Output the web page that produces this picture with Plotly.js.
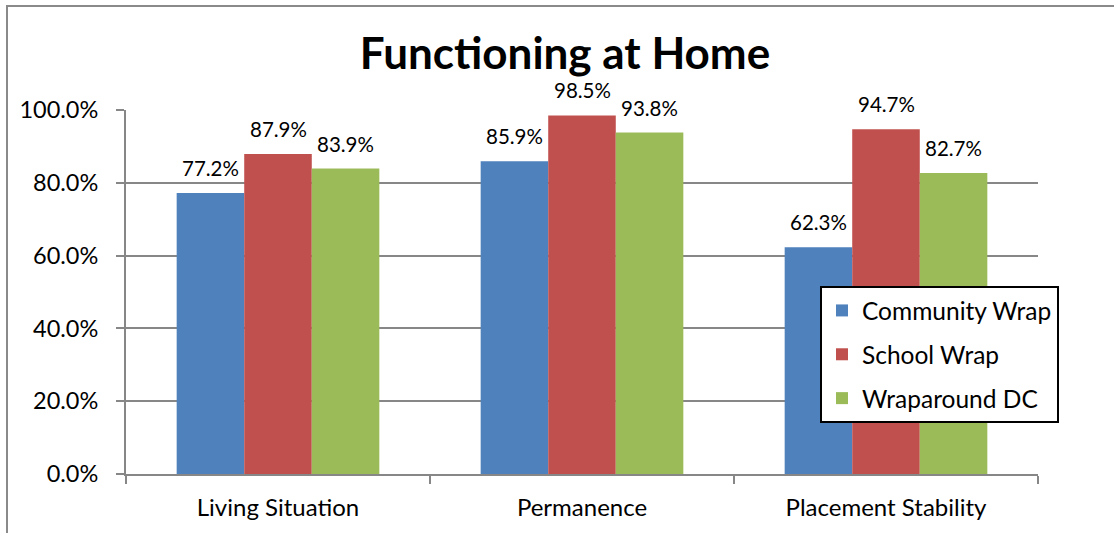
<!DOCTYPE html>
<html>
<head>
<meta charset="utf-8">
<script src="https://cdn.plot.ly/plotly-3.0.1.min.js"></script>
<style>
  html, body { margin: 0; padding: 0; background: #fff; }
  #chart { width: 1114px; height: 533px; }
</style>
</head>
<body>
<div id="chart"></div>
<script>
// Functioning at Home — share of youth by domain and program
const categories = ['Living Situation', 'Permanence', 'Placement Stability'];
const seriesNames = ['Community Wrap', 'School Wrap', 'Wraparound DC'];
const communityWrap = [0.772, 0.859, 0.623];
const schoolWrap = [0.879, 0.985, 0.947];
const wraparoundDC = [0.839, 0.938, 0.827];
const seriesColors = ['#4F81BD', '#C0504D', '#9BBB59'];

const FONT = 'Lato, "Open Sans", sans-serif';
const allSeries = [communityWrap, schoolWrap, wraparoundDC];

const bargap = 1 / 3;
const barWidth = (1 - bargap) / allSeries.length;

const traces = allSeries.map((vals, i) => ({
  type: 'bar',
  name: seriesNames[i],
  x: categories,
  y: vals,
  legendgroup: 'g' + i,
  marker: { color: seriesColors[i], line: { width: 0 } },
  hoverinfo: 'skip'
}));

// value labels sit above each bar, centred on its slot in the group
const labels = [];
allSeries.forEach((vals, i) => {
  const offset = (i - (allSeries.length - 1) / 2) * barWidth;
  vals.forEach((v, j) => {
    labels.push({
      xref: 'x', yref: 'y',
      x: j + offset, y: v,
      text: (v * 100).toFixed(1) + '%',
      showarrow: false,
      yanchor: 'bottom',
      yshift: 11,
      font: { family: FONT, size: 20.5, color: '#000' }
    });
  });
});

const axisGrey = '#878787';

const layout = {
  width: 1114,
  height: 533,
  margin: { l: 126, r: 76, t: 110, b: 59 },
  paper_bgcolor: '#fff',
  plot_bgcolor: '#fff',
  font: { family: FONT, size: 24, color: '#000' },
  title: {
    text: '<b>Functioning at Home</b>',
    font: { family: FONT, size: 44, color: '#000' },
    xref: 'paper', x: (565 - 126) / 912, xanchor: 'center',
    yref: 'container', y: 1 - 54 / 533, yanchor: 'middle'
  },
  barmode: 'group',
  bargap: bargap,
  bargroupgap: 0,
  showlegend: true,
  legend: {
    x: (820 - 126) / 912, xanchor: 'left',
    y: (474 - 286) / 364, yanchor: 'top',
    bgcolor: '#fff',
    bordercolor: '#000',
    borderwidth: 2,
    traceorder: 'grouped',
    tracegroupgap: 9,
    font: { family: FONT, size: 24.5, color: '#000' }
  },
  xaxis: {
    type: 'category',
    tickson: 'boundaries',
    ticks: 'outside',
    ticklen: 8,
    tickwidth: 2,
    tickcolor: axisGrey,
    showline: true,
    linecolor: axisGrey,
    linewidth: 2,
    showgrid: false,
    ticklabelstandoff: 11,
    tickfont: { family: FONT, size: 24, color: '#000' },
    fixedrange: true
  },
  yaxis: {
    range: [0, 1],
    dtick: 0.2,
    tickformat: '.1%',
    ticks: 'outside',
    ticklen: 8,
    tickwidth: 2,
    tickcolor: axisGrey,
    showline: true,
    linecolor: axisGrey,
    linewidth: 2,
    showgrid: true,
    gridcolor: axisGrey,
    gridwidth: 2,
    zeroline: false,
    ticklabelstandoff: 13,
    tickfont: { family: FONT, size: 23.5, color: '#000' },
    fixedrange: true
  },
  annotations: labels,
  shapes: [
    // chart frame: top and left edges
    { type: 'line', xref: 'paper', yref: 'paper',
      x0: (6 - 126) / 912, x1: (1114 - 126) / 912,
      y0: (474 - 6) / 364, y1: (474 - 6) / 364,
      line: { color: '#8a8a8a', width: 2 } },
    { type: 'line', xref: 'paper', yref: 'paper',
      x0: (7 - 126) / 912, x1: (7 - 126) / 912,
      y0: (474 - 5) / 364, y1: (474 - 533) / 364,
      line: { color: '#8a8a8a', width: 2 } }
  ]
};

Plotly.newPlot('chart', traces, layout, { displayModeBar: false, staticPlot: true });
</script>
</body>
</html>
